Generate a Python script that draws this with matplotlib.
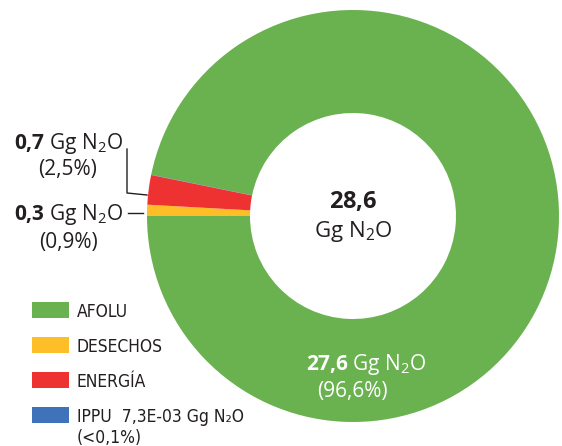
import matplotlib
matplotlib.use("Agg")
import matplotlib.pyplot as plt
from matplotlib.patches import Rectangle

# Emisiones de N2O por sector (Gg)
sectors = ["AFOLU", "DESECHOS", "ENERGÍA", "IPPU"]
values = [27.6, 0.25, 0.66, 0.0073]
colors = ["#6AB150", "#FDBE28", "#EE3231", "#4072B9"]

plt.rcParams["font.family"] = ["Open Sans", "DejaVu Sans"]
plt.rcParams["mathtext.fontset"] = "custom"
plt.rcParams["mathtext.rm"] = "Open Sans"
plt.rcParams["mathtext.bf"] = "Open Sans:bold"

W, H = 562, 446
fig = plt.figure(figsize=(W / 100, H / 100), dpi=100)
ax = fig.add_axes([0, 0, 1, 1])

def py(y):
    # image pixel row -> data y (y up)
    return H - y

dark = "#231F20"
cx, cy, R = 353, py(216), 206

# DESECHOS wedge starts at 9 o'clock, slices run clockwise
start = 180 + 360 * values[0] / sum(values)
ax.pie(values, colors=colors, radius=R, center=(cx, cy), startangle=start,
       counterclock=False,
       wedgeprops=dict(width=R * 0.5, edgecolor="none", linewidth=0))

ax.set_xlim(0, W)
ax.set_ylim(0, H)
ax.set_aspect("equal")
ax.axis("off")

# center total
ax.text(cx, py(208), r"$\mathbf{28{,}6}$", ha="center", va="baseline",
        fontsize=17, color=dark)
ax.text(cx, py(237), r"Gg N$_2$O", ha="center", va="baseline",
        fontsize=16, color=dark)

# side labels
ax.text(123, py(149), r"$\mathbf{0{,}7}$ Gg N$_2$O", ha="right",
        va="baseline", fontsize=15, color=dark)
ax.text(68, py(175), "(2,5%)", ha="center", va="baseline",
        fontsize=15, color=dark)
ax.plot([127, 127, 147], [py(149), py(193), py(195)], color=dark, lw=1.0)

ax.text(123, py(220), r"$\mathbf{0{,}3}$ Gg N$_2$O", ha="right",
        va="baseline", fontsize=15, color=dark)
ax.text(68, py(248), "(0,9%)", ha="center", va="baseline",
        fontsize=15, color=dark)
ax.plot([128, 143], [py(213), py(213)], color=dark, lw=1.0)

# AFOLU label inside ring
ax.text(366, py(370), r"$\mathbf{27{,}6}$ Gg N$_2$O", ha="center",
        va="baseline", fontsize=15, color="white")
ax.text(352, py(397), "(96,6%)", ha="center", va="baseline",
        fontsize=15, color="white")

# legend
leg_rows = [317, 352, 387, 422]
leg_texts = ["AFOLU", "DESECHOS", "ENERGÍA", "IPPU  7,3E-03 Gg N₂O"]
for yb, txt, col in zip(leg_rows, leg_texts, colors):
    ax.add_patch(Rectangle((32, py(yb + 1)), 37, 16, facecolor=col,
                           edgecolor="none"))
    ax.text(77, py(yb), txt, ha="left", va="baseline", fontsize=12.5,
            color=dark, family="DejaVu Sans", fontstretch="condensed")
ax.text(77, py(443), "(<0,1%)", ha="left", va="baseline", fontsize=12.5,
        color=dark, family="DejaVu Sans", fontstretch="condensed")

fig.savefig("out.png", dpi=100)
